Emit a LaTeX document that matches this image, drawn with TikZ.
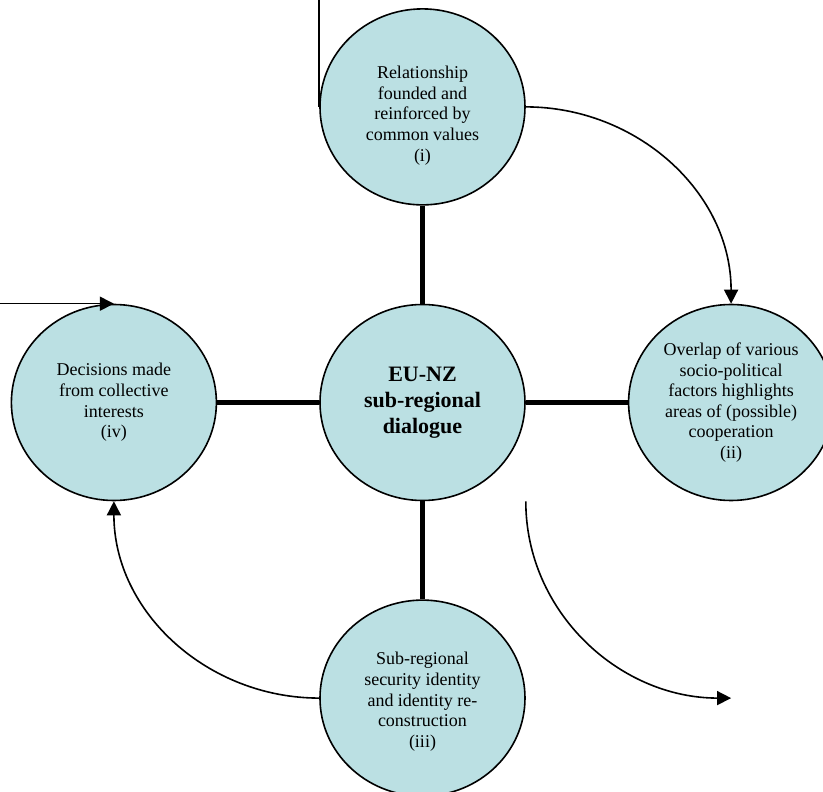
\documentclass[tikz,border=0pt]{standalone}
\usepackage{fontspec}
\setmainfont{Liberation Serif}
\usetikzlibrary{arrows.meta,positioning,shapes.geometric}

\begin{document}
\begin{tikzpicture}[
    x=1pt, y=1pt,
    node distance=98pt and 102pt,
    bubble/.style={
        ellipse,
        draw=black,
        line width=1.6pt,
        fill=bubbleblue,
        minimum width=205pt,
        minimum height=196pt,
        inner sep=0pt,
        align=center,
        font=\fontsize{18}{20.6}\selectfont
    },
    link/.style={
        line width=5pt
    },
    arrow/.style={
        -{Triangle[length=14pt,width=14pt]},
        line width=1.6pt
    },
    rule/.style={
        line width=1.6pt
    }
]
% Color definitions
\definecolor{bubbleblue}{RGB}{187,224,227}

% Frame
\useasboundingbox (-422.5,-389.5) rectangle (400.5,402.5);
\coordinate (frametop) at (0,402.5);
\coordinate (frameleft) at (-422.5,0);

% Nodes
\node[bubble, font=\fontsize{22}{26}\selectfont\bfseries] (hub) at (0,0) {EU-NZ\\sub-regional\\dialogue};
\node[bubble, above=of hub] (values) {\rule{0pt}{30pt}Relationship\\founded and\\reinforced by\\common values\\(i)};
\node[bubble, right=of hub] (overlap) {Overlap of various\\socio-political\\factors highlights\\areas of (possible)\\cooperation\\(ii)};
\node[bubble, below=of hub] (identity) {\rule{0pt}{20pt}Sub-regional\\security identity\\and identity re-\\construction\\(iii)};
\node[bubble, left=of hub] (decisions) {Decisions made\\from collective\\interests\\(iv)};

% Links
\draw[link] (values) -- (hub);
\draw[link] (overlap) -- (hub);
\draw[link] (identity) -- (hub);
\draw[link] (decisions) -- (hub);

% Arrows
\coordinate (loosestart) at (hub.east |- hub.south);
\coordinate (looseend) at (overlap.south |- identity.west);
\draw[rule] (values.west) -- (values.west |- frametop);
\draw[arrow] (decisions.north -| frameleft) -- (decisions.north);
\draw[arrow] (values.east) to[out=0, in=90] (overlap.north);
\draw[arrow] (identity.west) to[out=180, in=-90] (decisions.south);
\draw[arrow] (loosestart) to[out=-90, in=180] (looseend);

\end{tikzpicture}
\end{document}
